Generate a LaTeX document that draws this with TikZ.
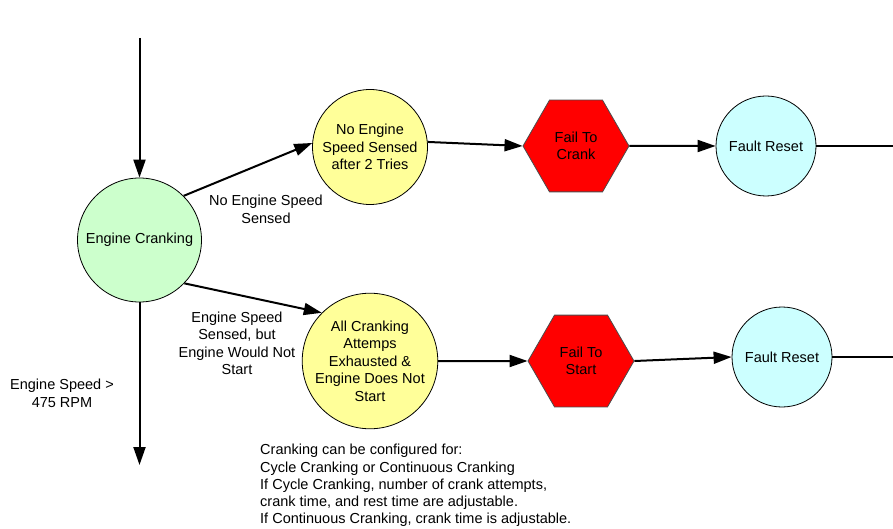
\documentclass[tikz,border=0pt]{standalone}
\usepackage{fontspec}
\setmainfont{Liberation Sans}
\usetikzlibrary{shapes.geometric,arrows.meta}
\definecolor{cgreen}{HTML}{CCFFCC}
\definecolor{cyellow}{HTML}{FFFF99}
\definecolor{cred}{HTML}{FF0000}
\definecolor{ccyan}{HTML}{CCFFFF}
\tikzset{
  txt/.style={font=\fontsize{14.5}{17.5}\selectfont, align=center, inner sep=0pt},
  state/.style={circle, draw=black, line width=0.8pt, inner sep=0pt, txt},
  hexa/.style={regular polygon, regular polygon sides=6, minimum size=106pt, draw=black!70, line width=0.8pt, fill=cred, inner sep=0pt, txt},
  conn/.style={line width=2pt, -{Triangle[length=18pt,width=12pt]}},
  plain/.style={line width=2pt},
}
\begin{document}
\begin{tikzpicture}[x=1pt,y=-1pt]
\useasboundingbox (0,0) rectangle (893,529);
\node[state, fill=cgreen, minimum size=124pt] (ec) at (139.5,240) {Engine Cranking};
\node[state, fill=cyellow, minimum size=115pt] (y1) at (370,147) {No Engine\\Speed Sensed\\after 2 Tries};
\node[hexa] (h1) at (576,146) {Fail To\\Crank};
\node[state, fill=ccyan, minimum size=100pt] (f1) at (766,146) {Fault Reset};
\node[state, fill=cyellow, minimum size=124pt] (y2) at (370,361) {All Cranking\\Attemps\\Exhausted \&\\Engine Does Not\\Start};
\node[hexa] (h2) at (581,361) {Fail To\\Start};
\node[state, fill=ccyan, minimum size=100pt] (f2) at (782,357) {Fault Reset};

\coordinate (top) at (139.5,38);
\coordinate (bot) at (139.5,465);
\coordinate (r1) at (893,146);
\coordinate (r2) at (893,357);

\draw[conn] (top) -- (ec.north);
\draw[conn] (ec.south) -- (bot);
\draw[conn] (ec.45) -- (y1.176);
\draw[conn] (y1.5) -- (h1.west);
\draw[conn] (h1.east) -- (f1.west);
\draw[plain] (f1.east) -- (r1);
\draw[conn] (ec.-44) -- (y2.135);
\draw[conn] (y2.east) -- (h2.west);
\draw[conn] (h2.east) -- (f2.west);
\draw[plain] (f2.east) -- (r2);

\node[txt] (l1) at (266,209.5) {No Engine Speed\\Sensed};
\node[txt] (l2) at (237,343.5) {Engine Speed\\Sensed, but\\Engine Would Not\\Start};
\node[txt] (l3) at (62,393.5) {Engine Speed >\\475 RPM};
\node[txt, align=left, anchor=north west, font=\fontsize{14.5}{17.3}\selectfont] (note) at (260,444) {Cranking can be configured for:\\Cycle Cranking or Continuous Cranking\\If Cycle Cranking, number of crank attempts,\\crank time, and rest time are adjustable.\\If Continuous Cranking, crank time is adjustable.};
\end{tikzpicture}
\end{document}
